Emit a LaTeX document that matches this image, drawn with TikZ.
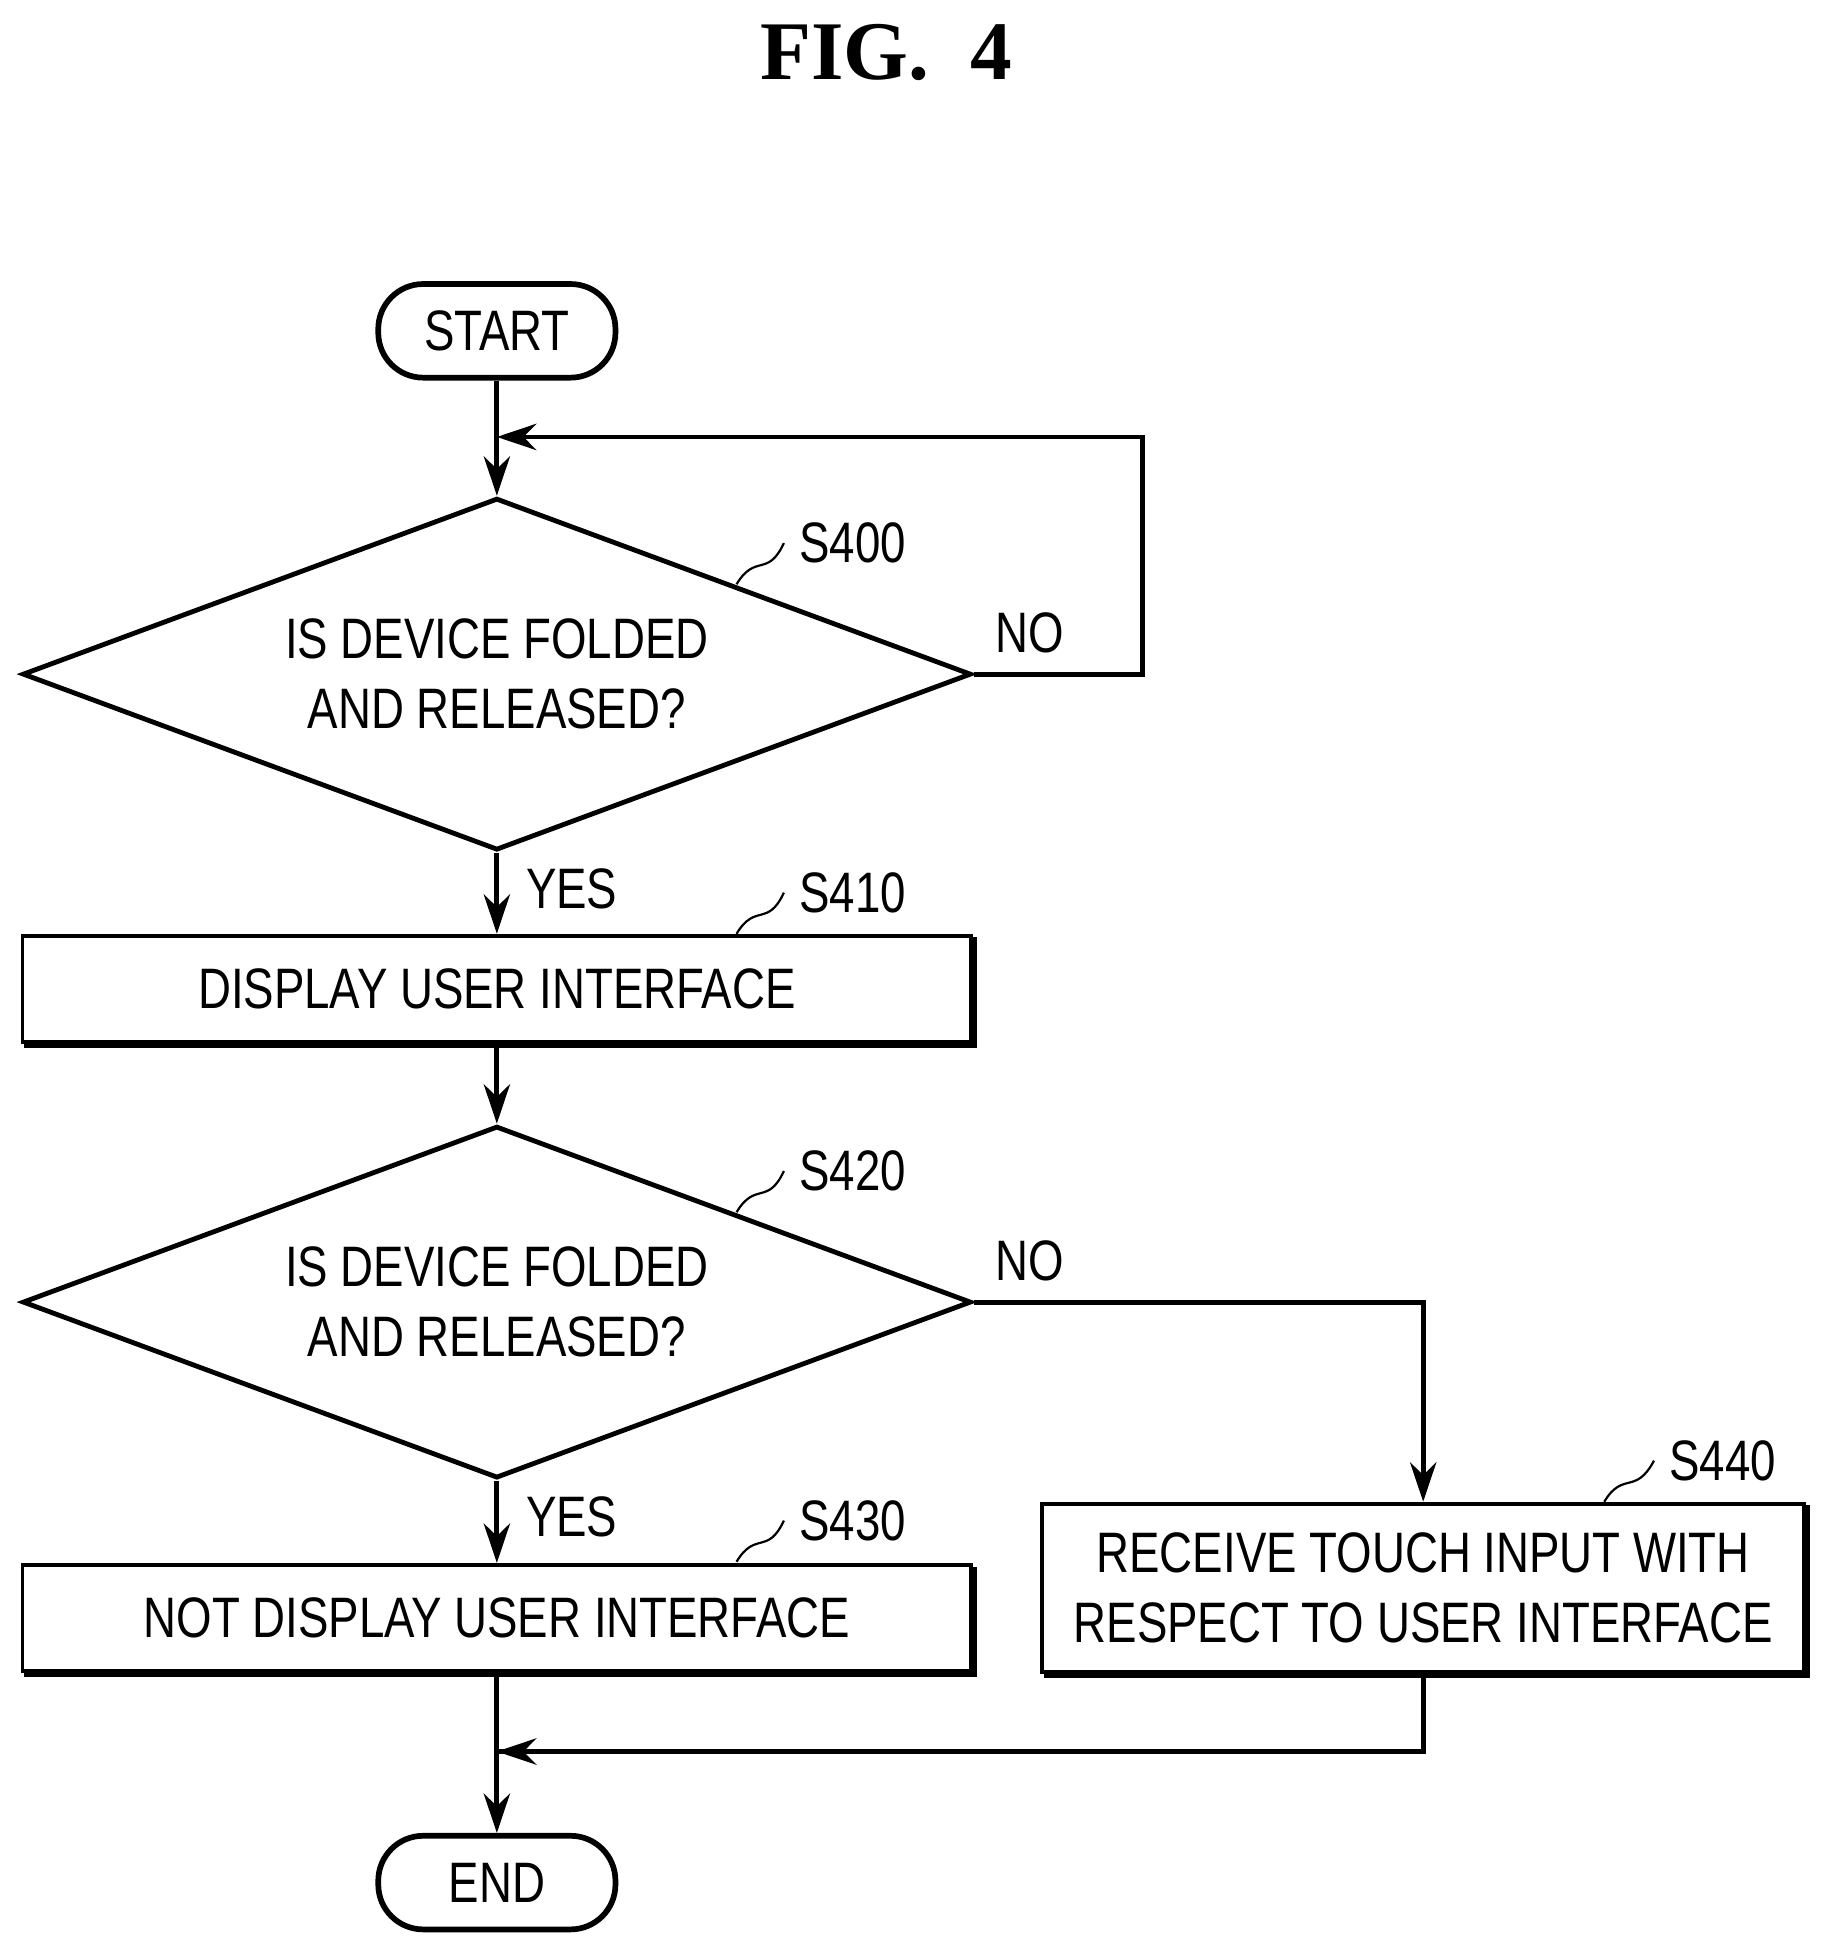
\documentclass[tikz,border=0pt]{standalone}
\usepackage{fontspec}
\setmainfont{Liberation Sans}[FakeStretch=0.8]
\newfontfamily\titlefont{Liberation Serif}
\usetikzlibrary{shapes.geometric,arrows.meta,shadows}
\tikzset{
    flow/.style={line width=1.1pt},
    arr/.style={flow,-{Stealth[length=9pt,width=6pt]}},
    term/.style={draw,line width=1.3pt,rounded corners=3.6mm,minimum width=19mm,
        minimum height=7.5mm,font=\fontsize{13}{15}\selectfont},
    proc/.style={draw,line width=0.9pt,minimum height=8.5mm,align=center,fill=white,
        font=\fontsize{13}{16}\selectfont,
        copy shadow={shadow xshift=0.3mm,shadow yshift=-0.3mm,draw,line width=0.9pt,fill=white}},
    test/.style={diamond,aspect=2.7,draw,line width=1.1pt,inner sep=0pt,minimum width=76mm,
        minimum height=28.2mm,align=center,font=\fontsize{13}{16}\selectfont},
    tag/.style={font=\fontsize{13}{15}\selectfont},
}
\begin{document}
\begin{tikzpicture}[x=0.1mm,y=-0.1mm]
    \useasboundingbox (0,0) rectangle (1460,1562);
    \node[font=\titlefont\bfseries\fontsize{19}{21}\selectfont] (title) at (710,42) {FIG.\ \ 4};

    \node[term] (start) at (398,265) {START};
    \node[test] (s400) at (398,540) {IS DEVICE FOLDED\\AND RELEASED?};
    \node[proc,minimum width=76mm] (s410) at (398,792) {DISPLAY USER INTERFACE};
    \node[test] (s420) at (398,1043) {IS DEVICE FOLDED\\AND RELEASED?};
    \node[proc,minimum width=76mm] (s430) at (398,1296) {NOT DISPLAY USER INTERFACE};
    \node[proc,minimum width=61mm,minimum height=13.5mm] (s440) at (1140,1272)
        {RECEIVE TOUCH INPUT WITH\\RESPECT TO USER INTERFACE};
    \node[term] (end) at (398,1508) {END};

    \coordinate (loop) at (398,350);
    \coordinate (join) at (398,1403);

    % step labels
    \node[tag] (t400) at (683,435) {S400};
    \node[tag] (t410) at (683,715) {S410};
    \node[tag] (t420) at (683,938) {S420};
    \node[tag] (t430) at (683,1218) {S430};
    \node[tag] (t440) at (1380,1170) {S440};
    \foreach \t/\x/\y in {t400/590/468,t410/590/748,t420/590/971,t430/590/1251,t440/1285/1203}
        \draw[line width=0.5pt] (\x,\y) .. controls (\x+15,\y-25) and (\x+25,\y-5) .. (\t.west);

    % connectors
    \draw[flow] (start) -- (loop);
    \draw[arr] (loop) -- (s400.north);
    \draw[flow] (s400.east) -| (915,350) -- (420,350);
    \draw[arr] (430,350) -- (loop);
    \draw[arr] (s400.south) -- (s410.north);
    \draw[arr] (s410.south) -- (s420.north);
    \draw[arr] (s420.south) -- (s430.north);
    \draw[arr] (s420.east) -| (s440.north);
    \draw[flow] (s440.south) |- (join);
    \draw[arr] (430,1403) -- (join);
    \draw[flow] (s430.south) -- (join);
    \draw[arr] (join) -- (end.north);

    \node[tag] (no1) at (825,507) {NO};
    \node[tag] (yes1) at (458,712) {YES};
    \node[tag] (no2) at (825,1010) {NO};
    \node[tag] (yes2) at (458,1215) {YES};
\end{tikzpicture}
\end{document}
